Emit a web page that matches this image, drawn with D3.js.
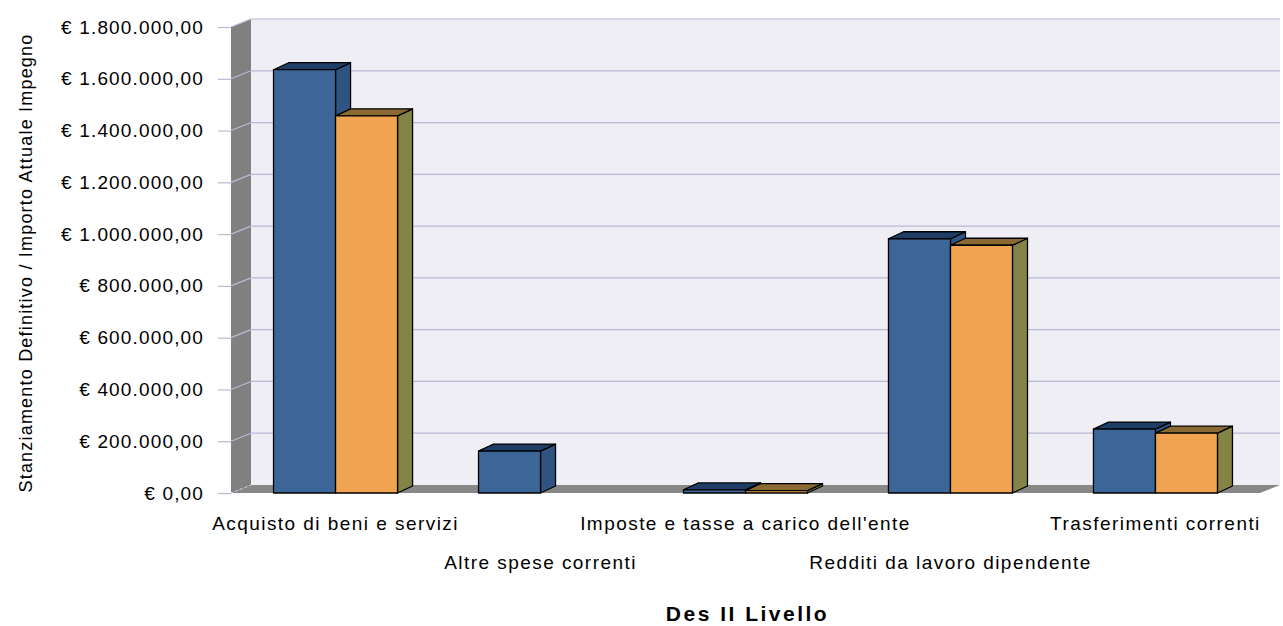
<!DOCTYPE html>
<html><head><meta charset="utf-8">
<script src="https://cdn.jsdelivr.net/npm/d3@7"></script>
<style>
body{margin:0;background:#fff}
text{font-family:"Liberation Sans",Arial,sans-serif;fill:#000}
</style></head>
<body><svg id="c" width="1283" height="626"></svg>
<script>
const categories=["Acquisto di beni e servizi","Altre spese correnti","Imposte e tasse a carico dell'ente","Redditi da lavoro dipendente","Trasferimenti correnti"];
const stanziamentoDefinitivo=[1635000,162000,12000,982000,247000];
const importoAttualeImpegno=[1457000,null,9000,957000,231000];
const yTicks=[0,200000,400000,600000,800000,1000000,1200000,1400000,1600000,1800000];
const yTitle="Stanziamento Definitivo / Importo Attuale Impegno";
const xTitle="Des II Livello";

const series=[
  {values:stanziamentoDefinitivo,front:"#3b6697",top:"#1f3e66",side:"#2f5481"},
  {values:importoAttualeImpegno,front:"#f0a351",top:"#8b6933",side:"#848446"}
];

const pL=231,pR=1260,pT=27,pB=493;
const wdx=20,wdy=-8,bdx=15,bdy=-7;

const svg=d3.select("#c");
const x=d3.scaleBand().domain(categories).range([pL,pR]).paddingInner(0.395).paddingOuter(0.2075);
const xs=d3.scaleBand().domain([0,1]).range([0,x.bandwidth()]);
const y=d3.scaleLinear().domain([0,1800000]).range([pB,pT]);

const loc=d3.formatLocale({decimal:",",thousands:".",grouping:[3],currency:["€ ",""]});
const fmt=loc.format("$,.2f");

// walls
svg.append("rect").attr("x",pL+wdx).attr("y",pT+wdy).attr("width",pR-pL).attr("height",pB-pT).attr("fill","#eeeef4");
svg.append("polygon").attr("points",[[pL,pT],[pL+wdx,pT+wdy],[pL+wdx,pB+wdy],[pL,pB]].join(" ")).attr("fill","#808080");
svg.append("polygon").attr("points",[[pL,pB],[pR,pB],[pR+wdx,pB+wdy],[pL+wdx,pB+wdy]].join(" ")).attr("fill","#888888");

// gridlines
const grid=svg.append("g");
yTicks.forEach(t=>{
  if(t===0) return;
  grid.append("line").attr("x1",pL+wdx).attr("x2",pR+wdx).attr("y1",y(t)+wdy).attr("y2",y(t)+wdy).attr("stroke","#b9b9d4").attr("stroke-width",1.2);
  grid.append("line").attr("x1",pL).attr("x2",pL+wdx).attr("y1",y(t)).attr("y2",y(t)+wdy).attr("stroke","#b9b9d4").attr("stroke-width",1.2);
});
grid.append("line").attr("x1",pL).attr("x2",pL+wdx).attr("y1",y(0)).attr("y2",y(0)+wdy).attr("stroke","#dddde8").attr("stroke-dasharray","2,3");

// axis
const ax=svg.append("g").attr("transform",`translate(${pL},0)`)
  .call(d3.axisLeft(y).tickValues(yTicks).tickSize(13).tickPadding(14).tickFormat(fmt));
ax.select(".domain").remove();
ax.selectAll(".tick line").attr("stroke","#b9b9d4").attr("stroke-width",1.2);
ax.selectAll(".tick text").attr("font-size",19).attr("letter-spacing","1.15px").attr("fill","#000")
  .attr("font-family","Liberation Sans, Arial, sans-serif");

// bars
const bars=svg.append("g").attr("stroke","#000").attr("stroke-width",1.3).attr("stroke-linejoin","round");
categories.forEach((c,i)=>{
  series.forEach((s,k)=>{
    const v=s.values[i];
    if(v==null) return;
    const x0=x(c)+xs(k), w=xs.bandwidth(), yt=y(v), yb=y(0);
    bars.append("polygon").attr("fill",s.side)
      .attr("points",[[x0+w,yt],[x0+w+bdx,yt+bdy],[x0+w+bdx,yb+bdy],[x0+w,yb]].join(" "));
    bars.append("polygon").attr("fill",s.top)
      .attr("points",[[x0,yt],[x0+bdx,yt+bdy],[x0+w+bdx,yt+bdy],[x0+w,yt]].join(" "));
    bars.append("rect").attr("fill",s.front).attr("x",x0).attr("y",yt).attr("width",w).attr("height",yb-yt);
  });
});

// category labels
svg.append("g").selectAll("text").data(categories).join("text")
  .attr("x",d=>x(d)+x.bandwidth()/2).attr("y",(d,i)=>i%2===0?530:569)
  .attr("text-anchor","middle").attr("font-size",19).attr("letter-spacing","1.45px").text(d=>d);

// titles
svg.append("text").attr("x",(pL+pR)/2+2).attr("y",621).attr("text-anchor","middle")
  .attr("font-size",21).attr("font-weight","bold").attr("letter-spacing","2.5px").text(xTitle);
svg.append("text").attr("transform",`translate(32,${(pT+pB)/2+3}) rotate(-90)`).attr("text-anchor","middle")
  .attr("font-size",18).attr("letter-spacing","1.2px").text(yTitle);
</script></body></html>
